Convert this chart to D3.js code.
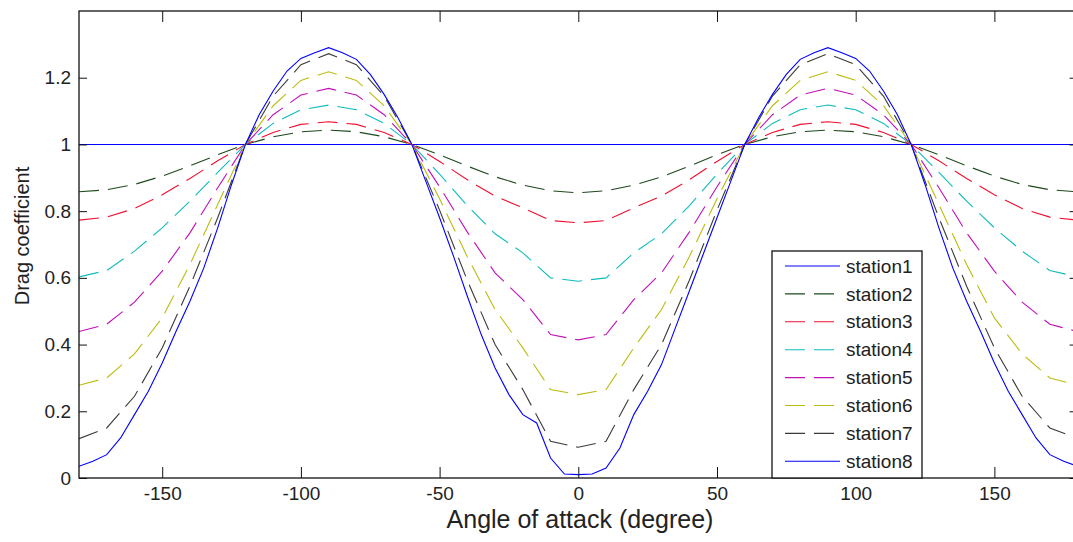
<!DOCTYPE html>
<html>
<head>
<meta charset="utf-8">
<script src="https://cdn.jsdelivr.net/npm/d3@7"></script>
<style>
  body { margin: 0; background: #fff; }
  text { font-family: "Liberation Sans", Arial, sans-serif; fill: #222; }
</style>
</head>
<body>
<div id="chart"></div>
<script>
// chart size (window is 1073x542)
const width = 1073;
const height = 542;
const margin = {left: 79, top: 11, bottom: 64};

// angles of attack, 10 degree steps (stations 1-7)
const angles = [-180,-170,-160,-150,-140,-130,-120,-110,-100,-90,-80,-70,-60,-50,-40,-30,-20,-10,
                0,10,20,30,40,50,60,70,80,90,100,110,120,130,140,150,160,170,180];
// angles for station8, 5 degree steps
const angles8 = [-180,-175,-170,-165,-160,-155,-150,-145,-140,-135,-130,-125,-120,-115,-110,-105,-100,-95,
                 -90,-85,-80,-75,-70,-65,-60,-55,-50,-45,-40,-35,-30,-25,-20,-15,-10,-5,
                 0,5,10,15,20,25,30,35,40,45,50,55,60,65,70,75,80,85,90,
                 95,100,105,110,115,120,125,130,135,140,145,150,155,160,165,170,175,180];

const station1 = [1,1,1,1,1,1,1,1,1,1,1,1,1,1,1,1,1,1,1,1,1,1,1,1,1,1,1,1,1,1,1,1,1,1,1,1,1];
const station2 = [0.858,0.864,0.880,0.905,0.936,0.969,1.0,1.023,1.038,1.043,1.038,1.023,1.0,0.969,0.935,0.903,0.878,0.861,
                  0.855,0.861,0.878,0.903,0.935,0.969,1.0,1.023,1.038,1.043,1.038,1.023,1.0,0.969,0.936,0.905,0.880,0.864,0.858];
const station3 = [0.773,0.782,0.808,0.849,0.898,0.951,1.0,1.036,1.060,1.068,1.060,1.036,1.0,0.949,0.894,0.845,0.810,0.772,
                  0.765,0.772,0.810,0.845,0.894,0.949,1.0,1.036,1.060,1.068,1.060,1.036,1.0,0.951,0.898,0.849,0.808,0.782,0.773];
const station4 = [0.603,0.622,0.680,0.750,0.830,0.916,1.0,1.063,1.104,1.118,1.104,1.063,1.0,0.911,0.816,0.732,0.675,0.600,
                  0.590,0.600,0.675,0.732,0.816,0.911,1.0,1.063,1.104,1.118,1.104,1.063,1.0,0.916,0.830,0.750,0.680,0.622,0.603];
const station5 = [0.439,0.461,0.527,0.620,0.735,0.870,1.0,1.089,1.148,1.168,1.148,1.089,1.0,0.873,0.737,0.615,0.535,0.430,
                  0.414,0.430,0.535,0.615,0.737,0.873,1.0,1.089,1.148,1.168,1.148,1.089,1.0,0.870,0.735,0.620,0.527,0.461,0.439];
const station6 = [0.278,0.300,0.372,0.480,0.640,0.820,1.0,1.116,1.192,1.218,1.192,1.116,1.0,0.837,0.663,0.505,0.390,0.265,
                  0.250,0.265,0.390,0.505,0.663,0.837,1.0,1.116,1.192,1.218,1.192,1.116,1.0,0.820,0.640,0.480,0.372,0.300,0.278];
const station7 = [0.118,0.150,0.245,0.390,0.575,0.780,1.0,1.145,1.239,1.272,1.239,1.145,1.0,0.803,0.592,0.400,0.265,0.110,
                  0.092,0.110,0.265,0.400,0.592,0.803,1.0,1.145,1.239,1.272,1.239,1.145,1.0,0.780,0.575,0.390,0.245,0.150,0.118];
const station8 = [0.035,0.05,0.07,0.12,0.19,0.26,0.345,0.44,0.53,0.63,0.75,0.88,1.0,1.09,1.16,1.22,1.258,1.275,
                  1.29,1.275,1.255,1.21,1.15,1.08,1.0,0.89,0.78,0.665,0.545,0.43,0.33,0.25,0.19,0.165,0.06,0.012,
                  0.01,0.012,0.03,0.09,0.19,0.26,0.34,0.45,0.56,0.67,0.78,0.89,1.0,1.08,1.15,1.21,1.255,1.275,1.29,
                  1.275,1.258,1.22,1.16,1.09,1.0,0.88,0.75,0.63,0.53,0.44,0.345,0.26,0.19,0.12,0.07,0.05,0.035];

const names = ["station1","station2","station3","station4","station5","station6","station7","station8"];
const xTicks = [-150,-100,-50,0,50,100,150];
const yTicks = [0,0.2,0.4,0.6,0.8,1,1.2];

// series table built from the arrays above
const series = [
  {name: names[0], x: angles,  y: station1, color: "#0000ff", dash: null},
  {name: names[1], x: angles,  y: station2, color: "#1e4a1e", dash: "20,9"},
  {name: names[2], x: angles,  y: station3, color: "#f01030", dash: "20,9"},
  {name: names[3], x: angles,  y: station4, color: "#10bcbc", dash: "20,9"},
  {name: names[4], x: angles,  y: station5, color: "#c010b8", dash: "20,9"},
  {name: names[5], x: angles,  y: station6, color: "#bcbc10", dash: "20,9"},
  {name: names[6], x: angles,  y: station7, color: "#3a3a3a", dash: "20,9"},
  {name: names[7], x: angles8, y: station8, color: "#0000ff", dash: null}
];

const svg = d3.select("#chart").append("svg")
  .attr("width", width)
  .attr("height", height);

// scales (plot box runs past the right edge of the window)
const x = d3.scaleLinear().domain([-180, 180]).range([margin.left, 1077.6]);
const y = d3.scaleLinear().domain([0, 1.4]).range([height - margin.bottom, margin.top]);

svg.append("clipPath").attr("id", "clip")
  .append("rect")
  .attr("x", x(-180)).attr("y", y(1.4))
  .attr("width", x(180) - x(-180)).attr("height", y(0) - y(1.4));

// lines
const line = d3.line().x(d => x(d[0])).y(d => y(d[1]));
svg.append("g").attr("clip-path", "url(#clip)")
  .selectAll("path")
  .data(series)
  .join("path")
    .attr("d", s => line(d3.zip(s.x, s.y)))
    .attr("fill", "none")
    .attr("stroke", s => s.color)
    .attr("stroke-width", 1.1)
    .attr("stroke-dasharray", s => s.dash);

// axes, ticks pointing inwards like matlab
const xAxis = svg.append("g")
  .attr("transform", `translate(0,${y(0)})`)
  .call(d3.axisBottom(x).tickValues(xTicks).tickSizeInner(-11).tickSizeOuter(0).tickPadding(9)
        .tickFormat(d => String(d)));
const xTop = svg.append("g")
  .attr("transform", `translate(0,${y(1.4)})`)
  .call(d3.axisTop(x).tickValues(xTicks).tickSizeInner(-11).tickSizeOuter(0).tickFormat(""));
const yAxis = svg.append("g")
  .attr("transform", `translate(${x(-180)},0)`)
  .call(d3.axisLeft(y).tickValues(yTicks).tickSizeInner(-8).tickSizeOuter(0).tickPadding(8)
        .tickFormat(d => String(+d.toFixed(1))));
const yRight = svg.append("g")
  .attr("transform", `translate(${x(180)},0)`)
  .call(d3.axisRight(y).tickValues(yTicks).tickSizeInner(-8).tickSizeOuter(0).tickFormat(""));

[xAxis, xTop, yAxis, yRight].forEach(g => {
  g.select(".domain").remove();
  g.selectAll("line").attr("stroke", "#111");
  g.selectAll("text").attr("font-size", "19px").attr("fill", "#222")
    .style("font-family", '"Liberation Sans", Arial, sans-serif');
});

// box around the plot
svg.append("rect")
  .attr("x", x(-180)).attr("y", y(1.4))
  .attr("width", x(180) - x(-180)).attr("height", y(0) - y(1.4))
  .attr("fill", "none").attr("stroke", "#111").attr("stroke-width", 1.3);

// axis labels
svg.append("text")
  .attr("x", 580).attr("y", 528)
  .attr("text-anchor", "middle")
  .attr("font-size", "25px")
  .text("Angle of attack (degree)");

svg.append("text")
  .attr("transform", "translate(29,236) rotate(-90)")
  .attr("text-anchor", "middle")
  .attr("font-size", "20px")
  .text("Drag coefficient");

// legend
const legX = 772, legY = 251, legW = 150, rowH = 27.9;
const legend = svg.append("g");
legend.append("rect")
  .attr("x", legX).attr("y", legY)
  .attr("width", legW).attr("height", y(0) - legY)
  .attr("fill", "#fff").attr("stroke", "#111").attr("stroke-width", 1.3);

const rows = legend.selectAll(".row")
  .data(series)
  .join("g")
    .attr("class", "row")
    .attr("transform", (d, i) => `translate(${legX},${legY + 15 + i * rowH})`);
rows.append("line")
  .attr("x1", 13).attr("x2", 68)
  .attr("stroke", d => d.color)
  .attr("stroke-width", 1.1)
  .attr("stroke-dasharray", d => d.dash);
rows.append("text")
  .attr("x", 74).attr("dy", "0.35em")
  .attr("font-size", "19px")
  .text(d => d.name);
</script>
</body>
</html>
